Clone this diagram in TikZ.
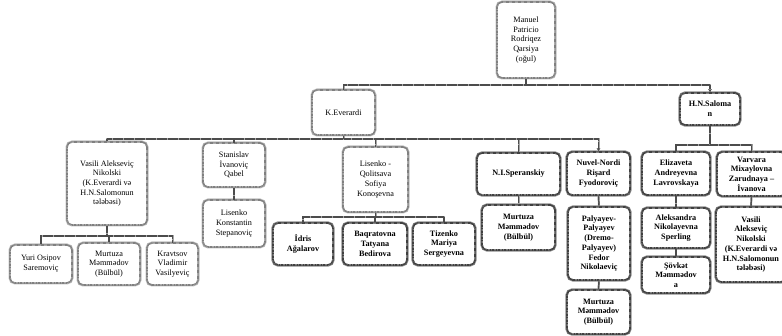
\documentclass[tikz,border=0pt]{standalone}
\usepackage{fontspec}
\setmainfont{Liberation Serif}
\usetikzlibrary{arrows.meta}
\newcommand\myfs{\fontsize{8.2}{9.7}\selectfont}
\newcommand\mybox[7]{\node[#2, minimum width={(#5-#3)*1pt}, minimum height={(#6-#4)*1pt}] (#1) at ({(#3+#5)/2},{(#4+#6)/2}) {#7};}
\tikzset{
  lbox/.style={draw=black!50, line width=1.7pt, rounded corners=5pt, fill=white,
    align=center, inner sep=0.5pt, font=\myfs, dash pattern=on 0.8pt off 0.4pt,
    preaction={draw=black!25, line width=3pt, solid, rounded corners=5pt}},
  dbox/.style={draw=black!75, line width=1.8pt, rounded corners=5pt, fill=white,
    align=center, inner sep=0.5pt, font=\myfs\bfseries, dash pattern=on 0.8pt off 0.4pt,
    preaction={draw=black!45, line width=3.2pt, solid, rounded corners=5pt}},
  conn/.style={draw=black!70, line width=1.4pt, dash pattern=on 0.8pt off 0.3pt,
    preaction={draw=black!35, line width=2pt, solid}},
  tip/.style={-{Stealth[length=3pt,width=3.5pt]}}
}
\begin{document}
\begin{tikzpicture}[x=1pt,y=-1pt]
\fill[white] (0,0) rectangle (782,336);
\useasboundingbox (0,0) rectangle (782,336);
% level 1-2
\mybox{root}{lbox}{497}{2}{555}{78}{Manuel\\Patricio\\Rodriqez\\Qarsiya\\(oğul)}
\mybox{kev}{lbox}{312}{90}{375}{135}{K.Everardi}
\mybox{hns}{dbox}{680}{93}{740}{125}{H.N.Saloma\\n}
% level 3
\mybox{vas1}{lbox}{67}{142}{147}{225}{Vasili Alekseviç\\Nikolski\\(K.Everardi və\\H.N.Salomonun\\tələbəsi)}
\mybox{serg}{lbox}{203}{143}{265}{187}{Stanislav\\İvanoviç\\Qabel}
\mybox{lisq}{lbox}{343}{147}{408}{212}{Lisenko -\\Qolitsava\\Sofiya\\Konoşevna}
\mybox{sper}{dbox}{477}{153}{560}{195}{N.I.Speranskiy}
\mybox{nuv}{dbox}{567}{152}{630}{195}{Nuvel-Nordi\\Rişard\\Fyodoroviç}
\mybox{eliz}{dbox}{642}{152}{710}{195}{Elizaveta\\Andreyevna\\Lavrovskaya}
\mybox{varv}{dbox}{717}{152}{786}{196}{Varvara\\Mixaylovna\\Zarudnaya –\\İvanova}
% level 4+
\mybox{yuri}{lbox}{10}{245}{72}{283}{Yuri Osipov\\Saremoviç}
\mybox{murt1}{lbox}{78}{243}{140}{285}{Murtuza\\Məmmədov\\(Bülbül)}
\mybox{krav}{lbox}{147}{243}{198}{285}{Kravtsov\\Vladimir\\Vasilyeviç}
\mybox{lisk}{lbox}{203}{200}{265}{247}{Lisenko\\Konstantin\\Stepanoviç}
\mybox{idr}{dbox}{273}{223}{333}{265}{İdris\\Ağalarov}
\mybox{baq}{dbox}{343}{223}{407}{265}{Baqratovna\\Tatyana\\Bedirova}
\mybox{tiz}{dbox}{413}{223}{475}{265}{Tizenko\\Mariya\\Sergeyevna}
\mybox{murt2}{dbox}{482}{205}{555}{250}{Murtuza\\Məmmədov\\(Bülbül)}
\mybox{paly}{dbox}{568}{207}{630}{280}{Palyayev-\\Palyayev\\(Dremo-\\Palyayev)\\Fedor\\Nikolaeviç}
\mybox{murt3}{dbox}{567}{290}{630}{334}{Murtuza\\Məmmədov\\(Bülbül)}
\mybox{alek}{dbox}{642}{208}{710}{248}{Aleksandra\\Nikolayevna\\Sperling}
\mybox{sovk}{dbox}{642}{257}{710}{293}{Şövkət\\Məmmədov\\a}
\mybox{vas2}{dbox}{716}{207}{786}{282}{Vasili\\Alekseviç\\Nikolski\\(K.Everardi və\\H.N.Salomonun\\tələbəsi)}
% connectors
\draw[conn] (root.south) -- ++(0,6) -| (kev.north);
\draw[conn,tip] (root.south) -- ++(0,6) -| (hns.north);
\foreach \c in {vas1,serg,lisq,sper} {\draw[conn] (kev.south) -- ++(0,3) -| (\c.north);}
\draw[conn,tip] (kev.south) -- ++(0,3) -| (nuv.north);
\foreach \c in {eliz,varv} {\draw[conn] (hns.south) -- ++(0,19) -| (\c.north);}
\foreach \c in {yuri,murt1,krav} {\draw[conn] (vas1.south) -- ++(0,10) -| (\c.north);}
\foreach \c in {idr,baq,tiz} {\draw[conn] (lisq.south) -- ++(0,4) -| (\c.north);}
\draw[conn] (serg.south) -- (lisk.north);
\draw[conn] (sper.south) -- (murt2.north);
\draw[conn] (nuv.south) -- (paly.north);
\draw[conn] (paly.south) -- (murt3.north);
\draw[conn] (eliz.south) -- (alek.north);
\draw[conn] (alek.south) -- (sovk.north);
\draw[conn] (varv.south) -- (vas2.north);
\end{tikzpicture}
\end{document}
